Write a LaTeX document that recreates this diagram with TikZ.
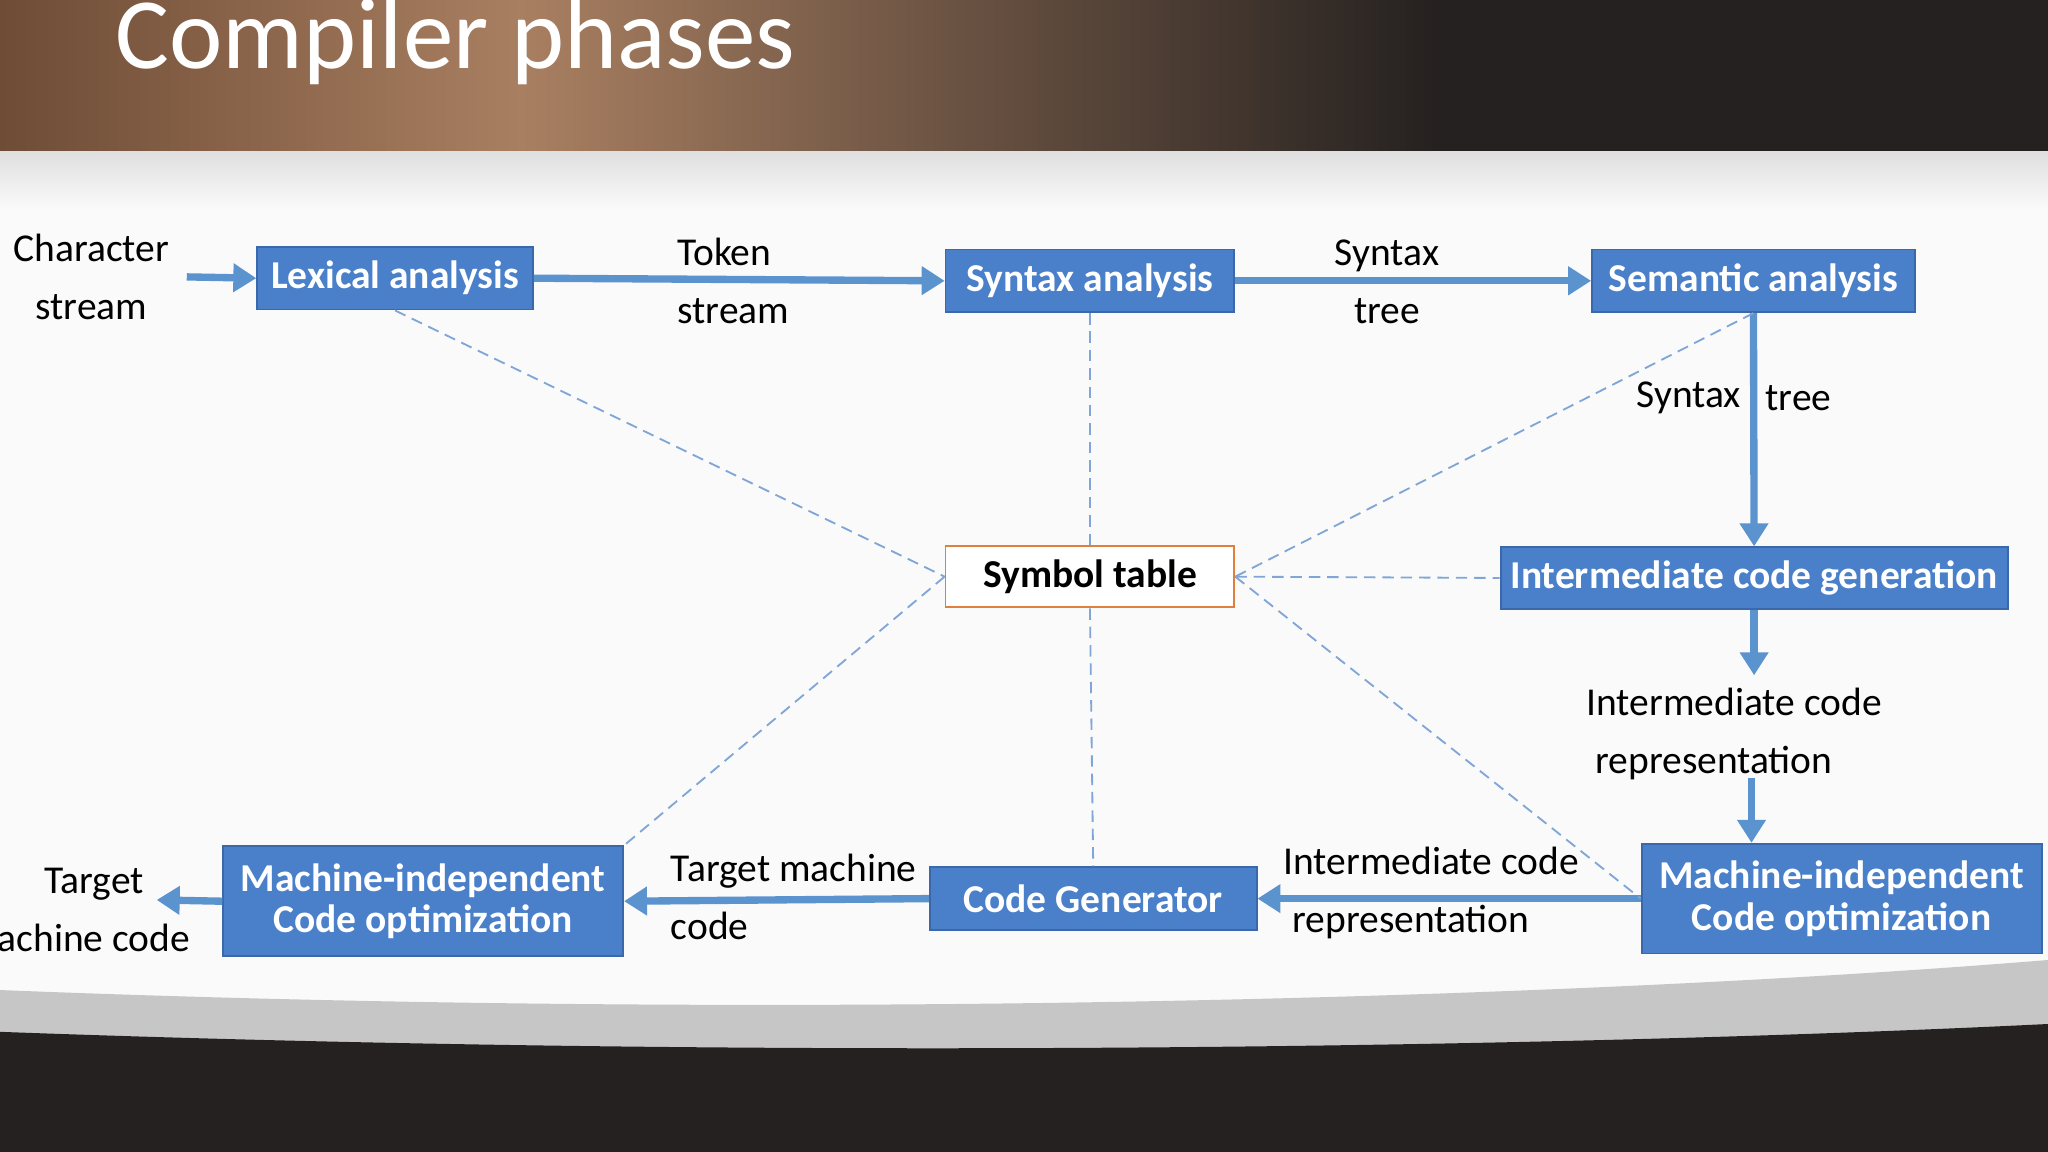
\documentclass[tikz,border=0pt]{standalone}
\usepackage{fontspec}
\setmainfont{Carlito}
\usetikzlibrary{arrows.meta}
\definecolor{boxblue}{HTML}{4A7FC9}
\definecolor{boxedge}{HTML}{3A68AA}
\definecolor{arrblue}{HTML}{5B93CE}
\definecolor{dashblue}{HTML}{7FA6D6}
\definecolor{symorange}{HTML}{E0803A}
\definecolor{darkbg}{HTML}{252120}
\definecolor{brownA}{HTML}{6E4C36}
\definecolor{brownB}{HTML}{A97F61}
\tikzset{
 box/.style={draw=boxedge,fill=boxblue,text=white,font=\bfseries\fontsize{8.6}{10}\selectfont,inner sep=0pt,align=center},
 lbl/.style={font=\fontsize{8.6}{10.6}\selectfont,text=black,inner sep=0pt},
 flow/.style={draw=arrblue,line width=1.6pt,-{Triangle[length=5pt,width=6pt]}},
 dsh/.style={draw=dashblue,line width=0.4pt,dash pattern=on 2.5pt off 1.5pt}
}
\begin{document}
\begin{tikzpicture}[x=0.01cm,y=-0.01cm]
\useasboundingbox (0,0) rectangle (1568,882);
\fill[gray!4] (0,0) rectangle (1568,882);
% banner
\shade[left color=brownA,right color=brownB] (0,0) rectangle (400,116);
\shade[left color=brownB,right color=darkbg] (399,0) rectangle (1100,116);
\fill[darkbg] (1099,0) rectangle (1568,116);
\shade[top color=gray!25,bottom color=gray!4] (0,116) rectangle (1568,160);
\node[anchor=west,text=white,font=\fontsize{22}{24}\selectfont,inner sep=0pt] (title) at (88,32) {Compiler phases};
% bottom
\fill[gray!45] (0,758) .. controls (600,782) and (1200,765) .. (1568,735) -- (1568,882) -- (0,882) -- cycle;
\fill[darkbg] (0,790) .. controls (600,812) and (1200,802) .. (1568,784) -- (1568,882) -- (0,882) -- cycle;
% nodes
\node[box,minimum width=2.11cm,minimum height=0.48cm] (lex) at (302.5,213) {Lexical analysis};
\node[box,minimum width=2.21cm,minimum height=0.48cm] (syn) at (834.5,215) {Syntax analysis};
\node[box,minimum width=2.47cm,minimum height=0.48cm] (sem) at (1342.5,215) {Semantic analysis};
\node[draw=symorange,fill=white,font=\bfseries\fontsize{8.6}{10}\selectfont,minimum width=2.21cm,minimum height=0.47cm,inner sep=0pt] (sym) at (834.5,441.5) {Symbol table};
\node[box,minimum width=3.88cm,minimum height=0.47cm] (icg) at (1343,442.5) {Intermediate code generation};
\node[box,minimum width=3.06cm,minimum height=0.84cm] (mir) at (1410,688) {Machine-independent\\[-1pt]Code optimization};
\node[box,minimum width=2.5cm,minimum height=0.48cm] (cg) at (837,688) {Code Generator};
\node[box,minimum width=3.06cm,minimum height=0.84cm] (mil) at (324,690) {Machine-independent\\[-1pt]Code optimization};
% labels
\node[lbl,align=center] (cs) at (70,212) {Character\\[2pt]stream};
\node[lbl,align=left,anchor=west] (ts) at (518,215) {Token\\[2pt]stream};
\node[lbl,align=center] (st1) at (1062,216) {Syntax\\[2pt]tree};
\node[lbl] (st2a) at (1293,305) {Syntax};
\node[lbl] (st2b) at (1377,305) {tree};
\node[lbl,align=left,anchor=west] (icr1) at (1214,562) {Intermediate code\\[2pt]\ representation};
\node[lbl,align=left,anchor=west] (icr2) at (982,684) {Intermediate code\\[2pt]\ representation};
\node[lbl,align=left,anchor=west] (tmc) at (513,687) {Target machine\\[2pt]code};
\node[lbl,align=center] (tac) at (72,697) {Target\\[2pt]achine code};
% coordinates
\coordinate (csend) at (143,212);
\coordinate (icgout) at (1343,517);
\coordinate (icrin) at (1341,596);
\coordinate (tacend) at (120,689);
% arrows
\draw[flow] (csend) -- (lex.west);
\draw[flow] (lex.east) -- (syn.west);
\draw[flow] (syn.east) -- (sem.west);
\draw[flow] (sem.south) -- (icg.north);
\draw[flow] (icg.south) -- (icgout);
\draw[flow] (icrin) -- (mir.north -| icrin);
\draw[flow] (mir.west) -- (cg.east);
\draw[flow] (cg.west) -- (mil.east);
\draw[flow] (mil.west) -- (tacend);
% dashed
\draw[dsh] (lex.south) -- (sym.west);
\draw[dsh] (syn.south) -- (sym.north);
\draw[dsh] (sem.south) -- (sym.east);
\draw[dsh] (sym.east) -- (icg.west);
\draw[dsh] (sym.east) -- (mir.west);
\draw[dsh] (sym.south) -- (cg.north);
\draw[dsh] (sym.west) -- (mil.north east);
\end{tikzpicture}
\end{document}
